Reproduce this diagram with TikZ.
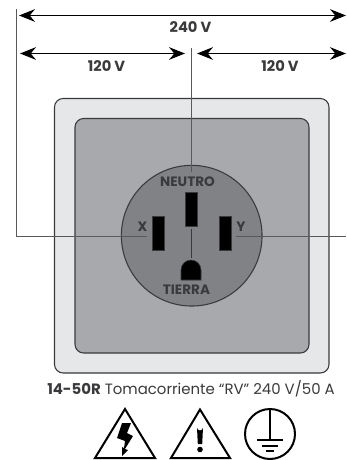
\documentclass[tikz,border=0pt]{standalone}
\usepackage{fontspec}
\setmainfont{Poppins}
\usetikzlibrary{arrows.meta}
\definecolor{plateLight}{HTML}{E6E7E8}
\definecolor{plateMid}{HTML}{A7A9AC}
\definecolor{faceGray}{HTML}{808285}
\definecolor{inkDark}{HTML}{3A3A3C}
\definecolor{wireGray}{HTML}{58595B}
\begin{document}
\begin{tikzpicture}[
    x=0.75pt, y=-0.75pt,
    plate/.style={draw=inkDark, line width=0.8pt, rounded corners=6.5pt},
    slot/.style={draw=inkDark, line width=0.6pt, fill=black},
    wire/.style={draw=wireGray, line width=0.75pt},
    volt/.style={draw=black, line width=0.8pt, {Stealth[length=12pt, width=9.5pt, inset=4pt]}-{Stealth[length=12pt, width=9.5pt, inset=4pt]}},
    tag/.style={font=\bfseries\fontsize{10.2pt}{12pt}\selectfont, text=inkDark, inner sep=0pt},
    voltlabel/.style={font=\bfseries\fontsize{11pt}{13pt}\selectfont, text=inkDark, inner sep=0pt},
    sign/.style={draw=black, line width=1.5pt, line join=miter},
]
\useasboundingbox (0,0) rectangle (346,460);
% wall plate
\draw[plate, fill=plateLight] (54.5,98.5) rectangle (329,373);
\draw[plate, fill=plateMid] (75,118.5) rectangle (309,353);
% outlet face
\node[circle, draw=inkDark, line width=0.8pt, fill=faceGray, minimum size=105.5pt, inner sep=0pt] (face) at (191.7,235.7) {};
% blades
\node[slot, minimum width=9.5pt, minimum height=25.5pt, inner sep=0pt] (neutro) at (191.5,209) {};
\node[slot, minimum width=9.5pt, minimum height=25.5pt, inner sep=0pt] (bladeX) at (158.3,233) {};
\node[slot, minimum width=9.5pt, minimum height=25.5pt, inner sep=0pt] (bladeY) at (225.3,233) {};
\draw[fill=black, draw=inkDark, line width=0.4pt] (181,280) -- (181,270) arc[start angle=180, end angle=0, x radius=10, y radius=-10] -- (201,280) -- cycle;
\coordinate (tierra) at (191.5,258);
% labels
\node[tag] (lblNeutro) at (187.5,182) {NEUTRO};
\node[tag] (lblTierra) at (186.5,290) {TIERRA};
\node[tag] (lblX) at (142.5,226.5) {X};
\node[tag] (lblY) at (241,226.5) {Y};
% reference points for the wires
\coordinate (topLeft) at (16.5,9);
\coordinate (cornerL) at (16.5,236);
\coordinate (endL) at (147,236);
\coordinate (endR) at (346,236);
\coordinate (startR) at (236,236);
\coordinate (topMid) at (191,48);
\coordinate (botMid) at (191,172);
\coordinate (neutroEnd) at (191.5,228.5);
\draw[wire] (topLeft) -- (cornerL) -- (endL);
\draw[wire] (startR) -- (endR);
\draw[wire] (topMid) -- (botMid);
\draw[draw=inkDark, line width=0.6pt] (neutroEnd) -- (tierra);
% voltage spans
\coordinate (spanA) at (19,15.5);
\coordinate (spanB) at (346,15.5);
\coordinate (spanC) at (20,53.5);
\coordinate (spanD) at (185,53.5);
\coordinate (spanE) at (197,53.5);
\coordinate (spanF) at (346,53.5);
\draw[volt] (spanA) -- (spanB);
\draw[volt] (spanC) -- (spanD);
\draw[volt] (spanE) -- (spanF);
\node[voltlabel] (v240) at (190.5,27) {240 V};
\node[voltlabel] (v120a) at (106.5,66) {120 V};
\node[voltlabel] (v120b) at (280,66) {120 V};
% caption
\node[inner sep=0pt, text=inkDark, font=\fontsize{11.2pt}{13pt}\selectfont] (caption) at (191,388.5) {\textbf{14-50R} Tomacorriente “RV” 240 V/50 A};
% warning signs
\draw[sign] (125,409) -- (155,458) -- (95,458) -- cycle;
\fill[black] (122,423) -- (131,423) -- (127,433) -- (133,436) -- (125,449) -- (128,450) -- (122,456) -- (122,447) -- (124,448) -- (125,441) -- (117,438) -- cycle;
\draw[sign] (200,409.5) -- (230,458) -- (171,458) -- cycle;
\fill[black] (197,427.5) arc[start angle=180, end angle=0, radius=3] -- (202.2,444) -- (197.8,444) -- cycle;
\fill[black] (200,449.5) circle[radius=2.8];
\node[circle, draw=black, line width=1.5pt, minimum size=37.5pt, inner sep=0pt] (earth) at (270,434) {};
\draw[black, line width=1pt] (270,409) -- (270,440);
\draw[black, line width=1.2pt] (257,440) -- (283,440);
\draw[black, line width=1.2pt] (262,446) -- (278,446);
\draw[black, line width=1.2pt] (266,451) -- (274,451);
\end{tikzpicture}
\end{document}
